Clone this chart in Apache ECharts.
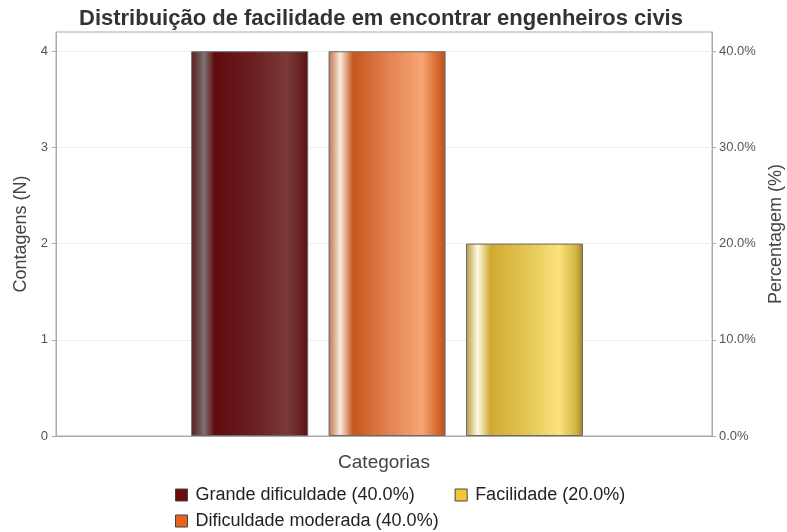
<!DOCTYPE html>
<html>
<head>
<meta charset="utf-8">
<script src="https://cdn.jsdelivr.net/npm/echarts@6/dist/echarts.min.js"></script>
<style>
  html, body { margin: 0; padding: 0; background: #fff; }
  #chart { width: 787px; height: 532px; }
</style>
</head>
<body>
<div id="chart"></div>
<script>
// Survey answers: how easy it is to find civil engineers
const categories = ['Grande dificuldade', 'Dificuldade moderada', 'Facilidade'];
const counts = [4, 4, 2];
const percentages = [40.0, 40.0, 20.0];
const countTicks = [0, 1, 2, 3, 4];
const percentTicks = [0, 10, 20, 30, 40];

// Solid swatch colours for the legend
const swatchColors = ['#6e0a0a', '#e8641c', '#f4c832'];

// Cylinder-like shading for each bar (left-to-right stops)
const barShading = [
  [[0, '#5c1a1a'], [0.06, '#6a4848'], [0.11, '#7c7474'], [0.2, '#600a0e'], [0.5, '#6a1c20'], [0.82, '#7a3a3a'], [0.93, '#6a2222'], [1, '#581010']],
  [[0, '#c07050'], [0.1, '#fbeadf'], [0.21, '#c6561a'], [0.5, '#e28050'], [0.8, '#f6a674'], [0.93, '#d8692e'], [1, '#b45420']],
  [[0, '#b89a3a'], [0.1, '#fffbe4'], [0.21, '#d0aa30'], [0.5, '#e2c452'], [0.8, '#fce27c'], [0.94, '#d4b444'], [1, '#a48424']]
];

const legendNames = categories.map((c, i) => `${c} (${percentages[i].toFixed(1)}%)`);
const positions = categories.map((c, i) => i + 1);

const font = 'Liberation Sans, Arial, sans-serif';

function gradient(stops) {
  return new echarts.graphic.LinearGradient(0, 0, 1, 0,
    stops.map(s => ({ offset: s[0], color: s[1] })));
}

function legendItem(i) {
  return {
    name: legendNames[i],
    itemStyle: { color: swatchColors[i], borderColor: '#444', borderWidth: 1 }
  };
}

const legendText = { fontFamily: font, fontSize: 18, color: '#222', padding: [0, 0, 0, 3] };

const chart = echarts.init(document.getElementById('chart'));

const option = {
  animation: false,
  textStyle: { fontFamily: font },
  title: {
    text: 'Distribuição de facilidade em encontrar engenheiros civis',
    left: 74,
    top: 3,
    textStyle: { fontFamily: font, fontSize: 22, fontWeight: 'bold', color: '#333' }
  },
  legend: [
    {
      data: [legendItem(0), legendItem(2)],
      left: 170, top: 481,
      icon: 'rect', itemWidth: 12, itemHeight: 12, itemGap: 40,
      textStyle: legendText
    },
    {
      data: [legendItem(1)],
      left: 170, top: 507,
      icon: 'rect', itemWidth: 12, itemHeight: 12,
      textStyle: legendText
    }
  ],
  grid: {
    left: 56, right: 75, top: 32, bottom: 96,
    outerBoundsMode: 'none',
    containLabel: false,
    show: true, borderColor: '#aaa', borderWidth: 1
  },
  xAxis: {
    type: 'value',
    min: -0.41,
    max: 4.365,
    name: 'Categorias',
    nameLocation: 'middle',
    nameGap: 17,
    nameTextStyle: { fontFamily: font, fontSize: 19, color: '#444' },
    axisLine: { show: true, onZero: false, lineStyle: { color: '#aaa' } },
    axisTick: { show: true, inside: true, length: 4, customValues: positions, lineStyle: { color: '#aaa' } },
    axisLabel: { show: false },
    splitLine: { show: false }
  },
  yAxis: [
    {
      type: 'value',
      min: 0, max: 4.2, interval: 1,
      name: 'Contagens (N)',
      nameLocation: 'middle',
      nameGap: 24,
      nameTextStyle: { fontFamily: font, fontSize: 18, color: '#444' },
      axisLine: { show: true, onZero: false, lineStyle: { color: '#aaa' } },
      axisTick: { show: true, length: 4, customValues: countTicks, lineStyle: { color: '#aaa' } },
      axisLabel: { customValues: countTicks, fontSize: 13, color: '#555', margin: 8 },
      splitLine: { show: true, lineStyle: { color: '#eeeeee' } }
    },
    {
      type: 'value',
      min: 0, max: 42, interval: 10,
      position: 'right',
      name: 'Percentagem (%)',
      nameLocation: 'middle',
      nameGap: 52,
      nameTextStyle: { fontFamily: font, fontSize: 18, color: '#444' },
      axisLine: { show: true, onZero: false, lineStyle: { color: '#aaa' } },
      axisTick: { show: true, length: 4, customValues: percentTicks, lineStyle: { color: '#aaa' } },
      axisLabel: {
        customValues: percentTicks, fontSize: 13, color: '#555', margin: 7,
        formatter: v => v.toFixed(1) + '%'
      },
      splitLine: { show: false }
    }
  ],
  series: categories.map((c, i) => ({
    name: legendNames[i],
    type: 'bar',
    barWidth: 117,
    barGap: '-100%',
    data: [[positions[i], counts[i]]],
    itemStyle: {
      color: gradient(barShading[i]),
      borderColor: '#6a6a6a',
      borderWidth: 1
    }
  }))
};

chart.setOption(option);
</script>
</body>
</html>
